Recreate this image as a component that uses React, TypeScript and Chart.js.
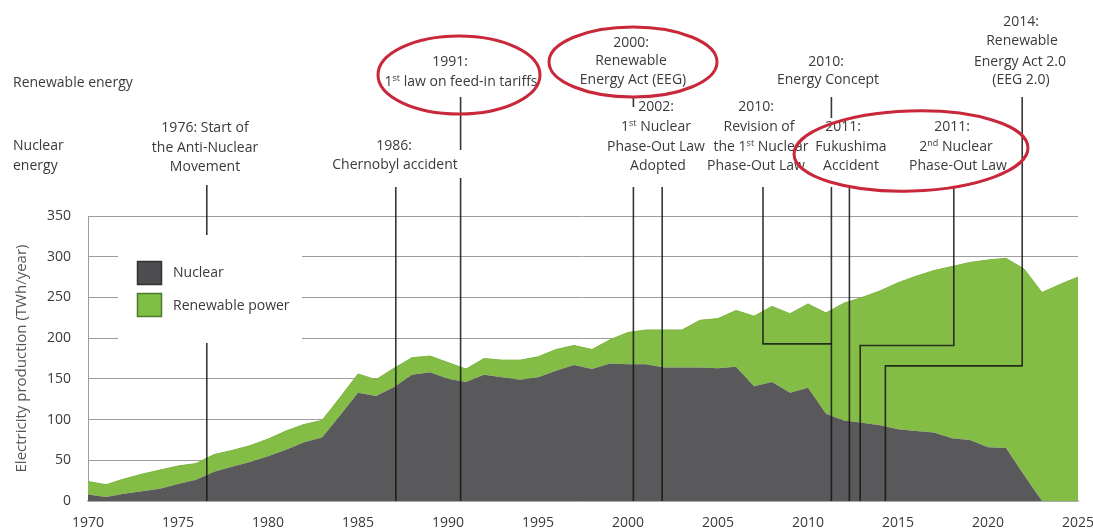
import React, { useEffect, useRef } from 'react';
import { Chart, registerables } from 'chart.js';

Chart.register(...registerables);

const years = [
  1970, 1971, 1972, 1973, 1974, 1975, 1976, 1977, 1978, 1979,
  1980, 1981, 1982, 1983, 1984, 1985, 1986, 1987, 1988, 1989,
  1990, 1991, 1992, 1993, 1994, 1995, 1996, 1997, 1998, 1999,
  2000, 2001, 2002, 2003, 2004, 2005, 2006, 2007, 2008, 2009,
  2010, 2011, 2012, 2013, 2014, 2015, 2016, 2017, 2018, 2019,
  2020, 2021, 2022, 2023, 2024, 2025,
];

const nuclear = [
  8, 5, 9, 12, 15, 21, 26, 36, 42, 48,
  55, 63, 72, 78, 105, 133, 129, 140, 155, 158,
  150, 146, 155, 152, 149, 152, 160, 167, 162, 169,
  168, 168, 164, 164, 164, 163, 165, 141, 146, 133,
  139, 107, 99, 96, 93, 88, 86, 84, 77, 75,
  66, 65, 32, 0, 0, 0,
];

const renewable = [
  16, 15, 18, 21, 23, 22, 20, 21, 20, 20,
  21, 23, 22, 21, 22, 23, 20, 23, 21, 20,
  20, 16, 20, 21, 24, 25, 26, 24, 24, 29,
  39, 42, 46, 46, 58, 61, 69, 86, 93, 97,
  103, 124, 144, 154, 165, 180, 190, 199, 211, 218,
  230, 233, 253, 256, 266, 275,
];

const xTickValues = [1970, 1975, 1980, 1985, 1990, 1995, 2000, 2005, 2010, 2015, 2020, 2025];
const yTickValues = [0, 50, 100, 150, 200, 250, 300, 350];

const seriesNames = ['Nuclear', 'Renewable power'];
const yTitle = 'Electricity production (TWh/year)';

// annotation texts: [text, centerX(px), centerY(px)]
const sideLabels: [string, number, number][] = [
  ['Renewable energy', 13, 83],
  ['Nuclear', 13, 146],
  ['energy', 13, 166],
];

const eventLabels: [string, number, number][] = [
  ['1976: Start of', 205, 128],
  ['the Anti-Nuclear', 205, 148],
  ['Movement', 205, 167],
  ['1986:', 394, 146],
  ['Chernobyl accident', 395, 165],
  ['1991:', 450, 62],
  ['1^st law on feed-in tariffs', 461, 82],
  ['2000:', 631, 43],
  ['Renewable', 631, 61],
  ['Energy Act (EEG)', 633, 80],
  ['2002:', 656, 107],
  ['1^st Nuclear', 656, 127],
  ['Phase-Out Law', 656, 147],
  ['Adopted', 658, 166],
  ['2010:', 756, 107],
  ['Revision of', 759, 127],
  ['the 1^st Nuclear', 761, 147],
  ['Phase-Out Law', 756, 166],
  ['2010:', 826, 62],
  ['Energy Concept', 828, 80],
  ['2011:', 843, 127],
  ['Fukushima', 851, 147],
  ['Accident', 851, 166],
  ['2011:', 952, 127],
  ['2^nd Nuclear', 956, 147],
  ['Phase-Out Law', 958, 166],
  ['2014:', 1021, 22],
  ['Renewable', 1022, 41],
  ['Energy Act 2.0', 1020, 62],
  ['(EEG 2.0)', 1021, 80],
];

const NUCLEAR_COLOR = '#59585a';
const GREEN_COLOR = '#84bd45';
const TEXT_COLOR = '#3a3a3a';
const FONT_FAMILY = '"Open Sans", "DejaVu Sans", sans-serif';

function drawRich(ctx: CanvasRenderingContext2D, text: string, x: number, y: number, align: 'left' | 'center') {
  const parts = text.split(/\^(\w+)/);
  const normal = `14px ${FONT_FAMILY}`;
  const sup = `9px ${FONT_FAMILY}`;
  let total = 0;
  parts.forEach((p, i) => {
    ctx.font = i % 2 === 1 ? sup : normal;
    total += ctx.measureText(p).width;
  });
  let cx = align === 'center' ? x - total / 2 : x;
  ctx.textAlign = 'left';
  ctx.textBaseline = 'middle';
  ctx.fillStyle = TEXT_COLOR;
  parts.forEach((p, i) => {
    const isSup = i % 2 === 1;
    ctx.font = isSup ? sup : normal;
    ctx.fillText(p, cx, isSup ? y - 4 : y);
    cx += ctx.measureText(p).width;
  });
}

const annotationPlugin = {
  id: 'annotations',
  beforeDatasetsDraw(chart: any) {
    const ctx = chart.ctx as CanvasRenderingContext2D;
    ctx.save();
    ctx.fillStyle = '#ffffff';
    ctx.fillRect(118, 236, 184, 106);
    ctx.restore();
  },
  afterDraw(chart: any) {
    const ctx = chart.ctx as CanvasRenderingContext2D;
    const xs = chart.scales.x;
    const ys = chart.scales.y;
    const X = (yr: number) => xs.getPixelForValue(yr);
    const Y = (v: number) => ys.getPixelForValue(v);
    const bottom = chart.chartArea.bottom;

    ctx.save();
    // event lines
    ctx.strokeStyle = 'rgba(20,20,20,0.85)';
    ctx.lineWidth = 1.6;
    const seg = (pts: [number, number][]) => {
      ctx.beginPath();
      pts.forEach(([px, py], i) => (i === 0 ? ctx.moveTo(px, py) : ctx.lineTo(px, py)));
      ctx.stroke();
    };
    seg([[X(1976.6), 185], [X(1976.6), 235]]);
    seg([[X(1976.6), 343], [X(1976.6), bottom]]);
    seg([[X(1987.1), 187], [X(1987.1), bottom]]);
    seg([[X(1990.7), 97], [X(1990.7), 150]]);
    seg([[X(1990.7), 178], [X(1990.7), bottom]]);
    seg([[X(2000.3), 97], [X(2000.3), 107]]);
    seg([[X(2000.3), 187], [X(2000.3), bottom]]);
    seg([[X(2001.9), 187], [X(2001.9), bottom]]);
    seg([[X(2007.5), 187], [X(2007.5), Y(193)], [X(2011.3), Y(193)]]);
    seg([[X(2011.3), 97], [X(2011.3), 118]]);
    seg([[X(2011.3), 187], [X(2011.3), bottom]]);
    seg([[X(2012.3), 187], [X(2012.3), bottom]]);
    seg([[X(2018.1), 187], [X(2018.1), Y(191)], [X(2012.9), Y(191)], [X(2012.9), bottom]]);
    seg([[X(2021.9), 97], [X(2021.9), Y(166)], [X(2014.3), Y(166)], [X(2014.3), bottom]]);

    // texts
    sideLabels.forEach(([t, x, y]) => drawRich(ctx, t, x, y, 'left'));
    eventLabels.forEach(([t, x, y]) => drawRich(ctx, t, x, y, 'center'));

    // red ellipses
    ctx.strokeStyle = '#c8283a';
    ctx.lineWidth = 3;
    ctx.beginPath();
    ctx.ellipse(459, 75, 81, 39, 0, 0, Math.PI * 2);
    ctx.stroke();
    ctx.beginPath();
    ctx.ellipse(633, 62, 84, 35, 0, 0, Math.PI * 2);
    ctx.stroke();
    ctx.beginPath();
    ctx.ellipse(911, 151, 117, 40, -0.03, 0, Math.PI * 2);
    ctx.stroke();

    // legend
    ctx.lineWidth = 1.5;
    ctx.fillStyle = '#4e4d4f';
    ctx.strokeStyle = '#333333';
    ctx.fillRect(137, 261, 25, 24);
    ctx.strokeRect(137.5, 261.5, 24, 23);
    ctx.fillStyle = '#7dbf44';
    ctx.strokeStyle = '#4a7a2c';
    ctx.fillRect(137, 293, 25, 24);
    ctx.strokeRect(137.5, 293.5, 24, 23);
    drawRich(ctx, seriesNames[0], 173, 273, 'left');
    drawRich(ctx, seriesNames[1], 173, 306, 'left');

    // y title
    ctx.translate(22, (chart.chartArea.top + bottom) / 2);
    ctx.rotate(-Math.PI / 2);
    ctx.font = `15px ${FONT_FAMILY}`;
    ctx.fillStyle = '#555555';
    ctx.textAlign = 'center';
    ctx.textBaseline = 'middle';
    ctx.fillText(yTitle, 0, 0);
    ctx.restore();
  },
};

export default function App() {
  const ref = useRef<HTMLCanvasElement | null>(null);

  useEffect(() => {
    if (!ref.current) return;
    const chart = new Chart(ref.current, {
      type: 'line',
      data: {
        datasets: [
          {
            label: seriesNames[0],
            data: years.map((yr, i) => ({ x: yr, y: nuclear[i] })),
            backgroundColor: NUCLEAR_COLOR,
            borderColor: NUCLEAR_COLOR,
            borderWidth: 0,
            fill: 'origin',
            pointRadius: 0,
            tension: 0,
          },
          {
            label: seriesNames[1],
            data: years.map((yr, i) => ({ x: yr, y: renewable[i] })),
            backgroundColor: GREEN_COLOR,
            borderColor: '#7ab53c',
            borderWidth: 1,
            fill: '-1',
            pointRadius: 0,
            tension: 0,
          },
        ],
      },
      options: {
        animation: false,
        responsive: false,
        devicePixelRatio: 1,
        layout: { padding: { top: 216, right: 15, left: 0, bottom: 0 } },
        plugins: {
          legend: { display: false },
          tooltip: { enabled: false },
        },
        scales: {
          x: {
            type: 'linear',
            min: 1970,
            max: 2025,
            afterBuildTicks: (scale: any) => {
              scale.ticks = xTickValues.map((v) => ({ value: v }));
            },
            afterFit: (scale: any) => {
              scale.height = 30;
              scale.paddingLeft = 0;
              scale.paddingRight = 0;
            },
            grid: { display: false, drawTicks: false },
            border: { display: true, color: '#b5b5b5', width: 1.5 },
            ticks: {
              padding: 14,
              color: '#3a3a3a',
              font: { family: FONT_FAMILY, size: 14 },
              maxRotation: 0,
              autoSkip: false,
              callback: (v: any) => String(v),
            },
          },
          y: {
            stacked: true,
            min: 0,
            max: 350,
            afterBuildTicks: (scale: any) => {
              scale.ticks = yTickValues.map((v) => ({ value: v }));
            },
            afterFit: (scale: any) => {
              scale.width = 88;
              scale.paddingTop = 0;
              scale.paddingBottom = 0;
            },
            grid: { color: '#9c9c9c', lineWidth: 1, drawTicks: false },
            border: { display: true, color: '#9c9c9c', width: 1 },
            ticks: {
              padding: 17,
              color: '#3a3a3a',
              font: { family: FONT_FAMILY, size: 14 },
              callback: (v: any) => String(v),
            },
          },
        },
      },
      plugins: [annotationPlugin],
    });
    return () => chart.destroy();
  }, []);

  return (
    <div style={{ position: 'fixed', left: 0, top: 0, width: 1093, height: 531, background: '#fff' }}>
      <canvas ref={ref} width={1093} height={531} style={{ display: 'block' }} />
    </div>
  );
}
